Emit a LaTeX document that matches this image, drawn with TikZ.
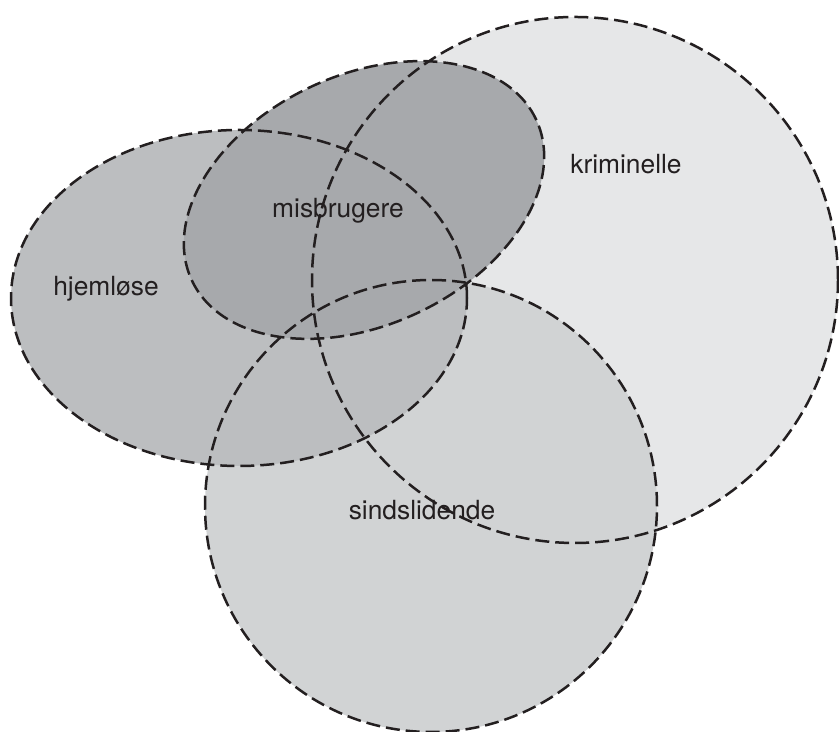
\documentclass[tikz,border=0pt]{standalone}
\usepackage{fontspec}
\setmainfont{TeX Gyre Heros}
\usepackage{xcolor}
\usepackage{tikz}
\definecolor{kriminellecolor}{HTML}{E6E7E8}
\definecolor{sindscolor}{HTML}{D1D3D4}
\definecolor{hjemcolor}{HTML}{BCBEC0}
\definecolor{misbrugcolor}{HTML}{A7A9AC}
\definecolor{inkcolor}{HTML}{231F20}

\begin{document}
\begin{tikzpicture}[
    x=0.02cm, y=0.02cm,
    setline/.style={draw=inkcolor, line width=0.05cm, dash pattern=on 0.28cm off 0.12cm},
    setlabel/.style={anchor=base, text=inkcolor, font=\fontsize{15}{18}\selectfont}
]
    \useasboundingbox (0,0) rectangle (839,732);

    \fill[kriminellecolor] (575,452) circle [radius=263];
    \fill[sindscolor] (431,226) circle [radius=226];
    \fill[hjemcolor] (239,434) ellipse [x radius=228, y radius=168];
    \fill[misbrugcolor] (364,532) ellipse [x radius=190, y radius=125, rotate=25];

    \draw[setline] (575,452) circle [radius=263];
    \draw[setline] (431,226) circle [radius=226];
    \draw[setline] (239,434) ellipse [x radius=228, y radius=168];
    \draw[setline] (364,532) ellipse [x radius=190, y radius=125, rotate=25];

    \node[setlabel] (kriminelle) at (626,558) {kriminelle};
    \node[setlabel] (misbrugere) at (338,514) {misbrugere};
    \node[setlabel] (hjemlose) at (106,436) {hjemløse};
    \node[setlabel] (sindslidende) at (422,212) {sindslidende};
\end{tikzpicture}
\end{document}
